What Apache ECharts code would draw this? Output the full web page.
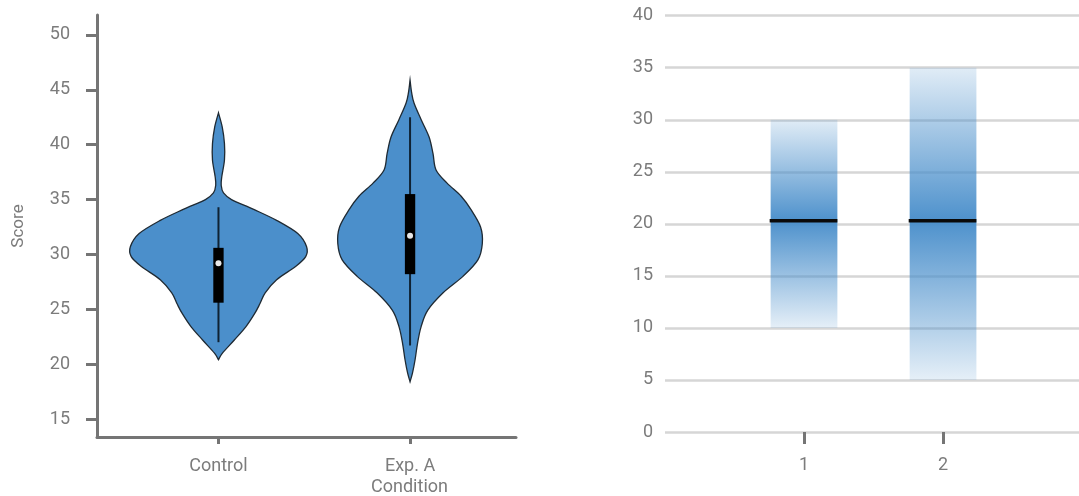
<!DOCTYPE html>
<html>
<head>
<meta charset="utf-8">
<style>
  html, body { margin: 0; padding: 0; background: #ffffff; }
  #chart { width: 1079px; height: 496px; }
</style>
<script src="https://cdn.jsdelivr.net/npm/echarts@6/dist/echarts.min.js"></script>
</head>
<body>
<div id="chart"></div>
<script>
// ---------- DATA ----------
const categories = ['Control', 'Exp. A'];
const leftTicks = [15, 20, 25, 30, 35, 40, 45, 50];

// Violin outlines: score level and relative density (Control peak = 1)
const controlScores  = [42.9, 41.6, 40.1, 38.6, 37.1, 36.3, 35.6, 35.0, 34.1, 33.1, 31.9, 30.7, 29.8, 28.9, 27.7, 26.5, 25.5, 24.6, 23.4, 22.2, 21.0, 20.4];
const controlDensity = [0, 0.043, 0.068, 0.068, 0.038, 0.031, 0.057, 0.148, 0.40, 0.66, 0.90, 1.0, 0.99, 0.875, 0.66, 0.53, 0.47, 0.41, 0.31, 0.18, 0.045, 0];

const expAScores  = [45.9, 44.8, 43.8, 42.3, 40.7, 39.2, 37.7, 36.5, 35.3, 34.1, 32.5, 31.0, 29.5, 28.0, 26.5, 24.9, 23.4, 21.9, 20.4, 19.2, 18.4];
const expADensity = [0, 0.017, 0.045, 0.125, 0.216, 0.26, 0.295, 0.42, 0.58, 0.69, 0.80, 0.82, 0.77, 0.60, 0.375, 0.20, 0.125, 0.085, 0.057, 0.028, 0];

// Box stats: [lower whisker, Q1, median, Q3, upper whisker]
const controlBox = [22.0, 25.6, 29.2, 30.6, 34.3];
const expABox    = [21.7, 28.2, 31.7, 35.5, 42.5];

// Right panel
const barGroups  = [1, 2];
const barLow     = [10, 5];
const barHigh    = [30, 35];
const barMedian  = [20.3, 20.3];

// ---------- STYLE ----------
const FONT = 'Roboto';
const LABEL_COLOR = '#7c7c7c';
const AXIS_COLOR = '#757575';
const VIOLIN_FILL = '#4b8fcb';
const VIOLIN_SCALE = 0.46;   // x-units per unit density
const BOX_HALF = 0.027;      // x-units
const BAR_HALF = 0.24;       // x-units

const violins = [
  { scores: controlScores, dens: controlDensity, box: controlBox },
  { scores: expAScores, dens: expADensity, box: expABox }
];

// Smooth open curve (Catmull-Rom -> cubic Bezier) through pixel points
function curveThrough(pts) {
  let d = '';
  const n = pts.length;
  for (let i = 0; i < n - 1; i++) {
    const p0 = pts[Math.max(0, i - 1)];
    const p1 = pts[i];
    const p2 = pts[i + 1];
    const p3 = pts[Math.min(n - 1, i + 2)];
    const c1x = p1[0] + (p2[0] - p0[0]) / 6;
    const c1y = p1[1] + (p2[1] - p0[1]) / 6;
    const c2x = p2[0] - (p3[0] - p1[0]) / 6;
    const c2y = p2[1] - (p3[1] - p1[1]) / 6;
    d += ' C' + c1x.toFixed(2) + ',' + c1y.toFixed(2) + ' ' + c2x.toFixed(2) + ',' + c2y.toFixed(2) + ' ' + p2[0].toFixed(2) + ',' + p2[1].toFixed(2);
  }
  return d;
}

function renderViolin(params, api) {
  const g = api.value(0);
  const v = violins[g];
  const right = [], left = [];
  for (let i = 0; i < v.scores.length; i++) {
    right.push(api.coord([g + v.dens[i] * VIOLIN_SCALE, v.scores[i]]));
  }
  for (let i = v.scores.length - 1; i >= 0; i--) {
    left.push(api.coord([g - v.dens[i] * VIOLIN_SCALE, v.scores[i]]));
  }
  const pathData = 'M' + right[0][0].toFixed(2) + ',' + right[0][1].toFixed(2) +
    curveThrough(right) + curveThrough(left) + ' Z';
  const b = v.box;
  const wTop = api.coord([g, b[4]]);
  const wBot = api.coord([g, b[0]]);
  const q3 = api.coord([g - BOX_HALF, b[3]]);
  const q1 = api.coord([g + BOX_HALF, b[1]]);
  const med = api.coord([g, b[2]]);
  return {
    type: 'group',
    children: [
      { type: 'path', shape: { pathData: pathData },
        style: { fill: VIOLIN_FILL, stroke: '#1f2a33', lineWidth: 1.3 } },
      { type: 'line', shape: { x1: wTop[0], y1: wTop[1], x2: wBot[0], y2: wBot[1] },
        style: { stroke: '#0f2233', lineWidth: 2 } },
      { type: 'rect', shape: { x: q3[0], y: q3[1], width: q1[0] - q3[0], height: q1[1] - q3[1] },
        style: { fill: '#000000' } },
      { type: 'circle', shape: { cx: med[0], cy: med[1], r: 3 },
        style: { fill: '#e6e6e6' } }
    ]
  };
}

function renderBar(params, api) {
  const i = params.dataIndex;
  const x = api.value(0);
  const lo = barLow[i], hi = barHigh[i], md = barMedian[i];
  const tl = api.coord([x - BAR_HALF, hi]);
  const br = api.coord([x + BAR_HALF, lo]);
  const m1 = api.coord([x - BAR_HALF, md]);
  const m2 = api.coord([x + BAR_HALF, md]);
  const off = (hi - md) / (hi - lo);
  const grad = new echarts.graphic.LinearGradient(0, 0, 0, 1, [
    { offset: 0, color: 'rgba(74,143,203,0.17)' },
    { offset: off, color: 'rgba(74,143,203,0.98)' },
    { offset: 1, color: 'rgba(74,143,203,0.14)' }
  ]);
  return {
    type: 'group',
    children: [
      { type: 'rect', shape: { x: tl[0], y: tl[1], width: br[0] - tl[0], height: br[1] - tl[1] },
        style: { fill: grad } },
      { type: 'line', shape: { x1: m1[0] - 1, y1: m1[1], x2: m2[0], y2: m2[1] },
        style: { stroke: '#0a0a0a', lineWidth: 3.5 } }
    ]
  };
}

const chart = echarts.init(document.getElementById('chart'), null, { renderer: 'canvas' });

const option = {
  backgroundColor: '#ffffff',
  animation: false,
  textStyle: { fontFamily: FONT },
  grid: [
    { left: 97, right: 563, top: 15, bottom: 59 },
    { left: 665, right: 0, top: 15.7, bottom: 64 }
  ],
  xAxis: [
    {
      gridIndex: 0, type: 'value', min: -0.634, max: 1.553,
      axisLine: { show: true, onZero: false, lineStyle: { color: AXIS_COLOR, width: 3 } },
      axisTick: { show: true, customValues: [0, 1], length: 7, lineStyle: { color: AXIS_COLOR, width: 3 } },
      axisLabel: { show: true, customValues: [0, 1], margin: 20,
        formatter: v => categories[Math.round(v)],
        color: LABEL_COLOR, fontSize: 18, fontFamily: FONT },
      splitLine: { show: false }
    },
    {
      gridIndex: 1, type: 'value', min: 0, max: 2.978,
      axisLine: { show: false, onZero: false },
      axisTick: { show: true, customValues: barGroups, length: 12, lineStyle: { color: AXIS_COLOR, width: 3 } },
      axisLabel: { show: true, customValues: barGroups, margin: 24,
        formatter: v => String(v),
        color: LABEL_COLOR, fontSize: 18, fontFamily: FONT },
      splitLine: { show: false }
    }
  ],
  yAxis: [
    {
      gridIndex: 0, type: 'value', min: 13.36, max: 51.82,
      name: 'Score', nameLocation: 'middle', nameGap: 70,
      nameTextStyle: { color: LABEL_COLOR, fontSize: 17, fontFamily: FONT },
      axisLine: { show: true, onZero: false, lineStyle: { color: AXIS_COLOR, width: 3 } },
      axisTick: { show: true, customValues: leftTicks, length: 11, lineStyle: { color: AXIS_COLOR, width: 3 } },
      axisLabel: { show: true, customValues: leftTicks, margin: 27,
        color: LABEL_COLOR, fontSize: 18, fontFamily: FONT },
      splitLine: { show: false }
    },
    {
      gridIndex: 1, type: 'value', min: 0, max: 40, interval: 5,
      axisLine: { show: false, onZero: false },
      axisTick: { show: false },
      axisLabel: { show: true, margin: 12, color: LABEL_COLOR, fontSize: 18, fontFamily: FONT },
      splitLine: { show: true, lineStyle: { color: '#d6d6d6', width: 2.5 } }
    }
  ],
  graphic: [
    { type: 'text', x: 409.5, y: 487,
      style: { text: 'Condition', align: 'center', verticalAlign: 'middle',
        fill: LABEL_COLOR, font: '18px Roboto' } }
  ],
  series: [
    {
      type: 'custom', xAxisIndex: 0, yAxisIndex: 0,
      renderItem: renderViolin,
      data: categories.map((c, i) => [i]),
      encode: { x: 0 },
      z: 3
    },
    {
      type: 'custom', xAxisIndex: 1, yAxisIndex: 1,
      renderItem: renderBar,
      data: barGroups.map(g => [g]),
      encode: { x: 0 },
      z: 3
    }
  ]
};

chart.setOption(option);
</script>
</body>
</html>
